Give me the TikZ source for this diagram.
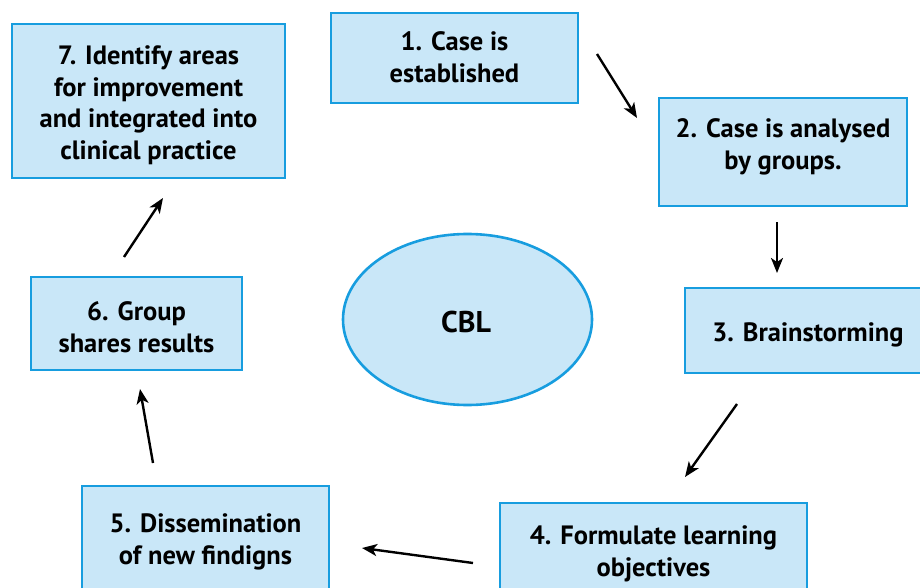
\documentclass[tikz,border=0pt]{standalone}
\usepackage{fontspec}
\setmainfont{PT Sans}
\usetikzlibrary{shapes.geometric,arrows.meta}
\definecolor{boxfill}{HTML}{C9E7F8}
\definecolor{boxline}{HTML}{179DDF}
\tikzset{
  box/.style={draw=boxline, fill=boxfill, line width=2.6pt, rectangle, inner sep=0pt},
  lbl/.style={font=\bfseries\fontsize{26.5}{31.5}\selectfont, align=center, inner sep=0pt, text=black},
  flow/.style={line width=2.4pt, -{Stealth[length=15pt,width=12pt,inset=4pt]}},
}
\begin{document}
\begin{tikzpicture}[x=1pt,y=-1pt]
\useasboundingbox (0,0) rectangle (920,588);
% boxes
\node[box, minimum width=247, minimum height=90] (b1) at (454.5,58) {};
\node[box, minimum width=248, minimum height=108] (b2) at (783,152) {};
\node[box, minimum width=246, minimum height=85] (b3) at (808,330.5) {};
\node[box, minimum width=307, minimum height=97] (b4) at (653.5,551.5) {};
\node[box, minimum width=247, minimum height=110] (b5) at (205.5,541) {};
\node[box, minimum width=211, minimum height=93] (b6) at (136.5,323.5) {};
\node[box, minimum width=273, minimum height=154] (b7) at (148.5,101) {};
\node[box, ellipse, minimum width=249, minimum height=171] (cbl) at (467.5,319.5) {};
% labels
\node[lbl] (t1) at (454.5,57) {1. Case is\\established};
\node[lbl] (t2) at (783,147) {2. Case is analysed\\by groups.};
\node[lbl] (t3) at (808,335) {3. Brainstorming};
\node[lbl] (t4) at (653.5,554) {4. Formulate learning\\objectives};
\node[lbl] (t5) at (205.5,542) {5. Dissemination\\of new findigns};
\node[lbl] (t6) at (136.5,327) {6. Group\\shares results};
\node[lbl] (t7) at (148.5,105) {7. Identify areas\\for improvement\\and integrated into\\clinical practice};
\node[lbl, font=\bfseries\fontsize{30}{34}\selectfont] (tc) at (466,322) {CBL};
% arrow end points
\coordinate (a1s) at (597,54);   \coordinate (a1e) at (637,118);
\coordinate (a2s) at (777,222);  \coordinate (a2e) at (777,273);
\coordinate (a3s) at (737,404);  \coordinate (a3e) at (685,477);
\coordinate (a4s) at (473,563);  \coordinate (a4e) at (362,548);
\coordinate (a5s) at (153,463);  \coordinate (a5e) at (140,389);
\coordinate (a6s) at (124,257);  \coordinate (a6e) at (163,198);
\draw[flow] (a1s) -- (a1e);
\draw[flow] (a2s) -- (a2e);
\draw[flow] (a3s) -- (a3e);
\draw[flow] (a4s) -- (a4e);
\draw[flow] (a5s) -- (a5e);
\draw[flow] (a6s) -- (a6e);
\end{tikzpicture}
\end{document}
